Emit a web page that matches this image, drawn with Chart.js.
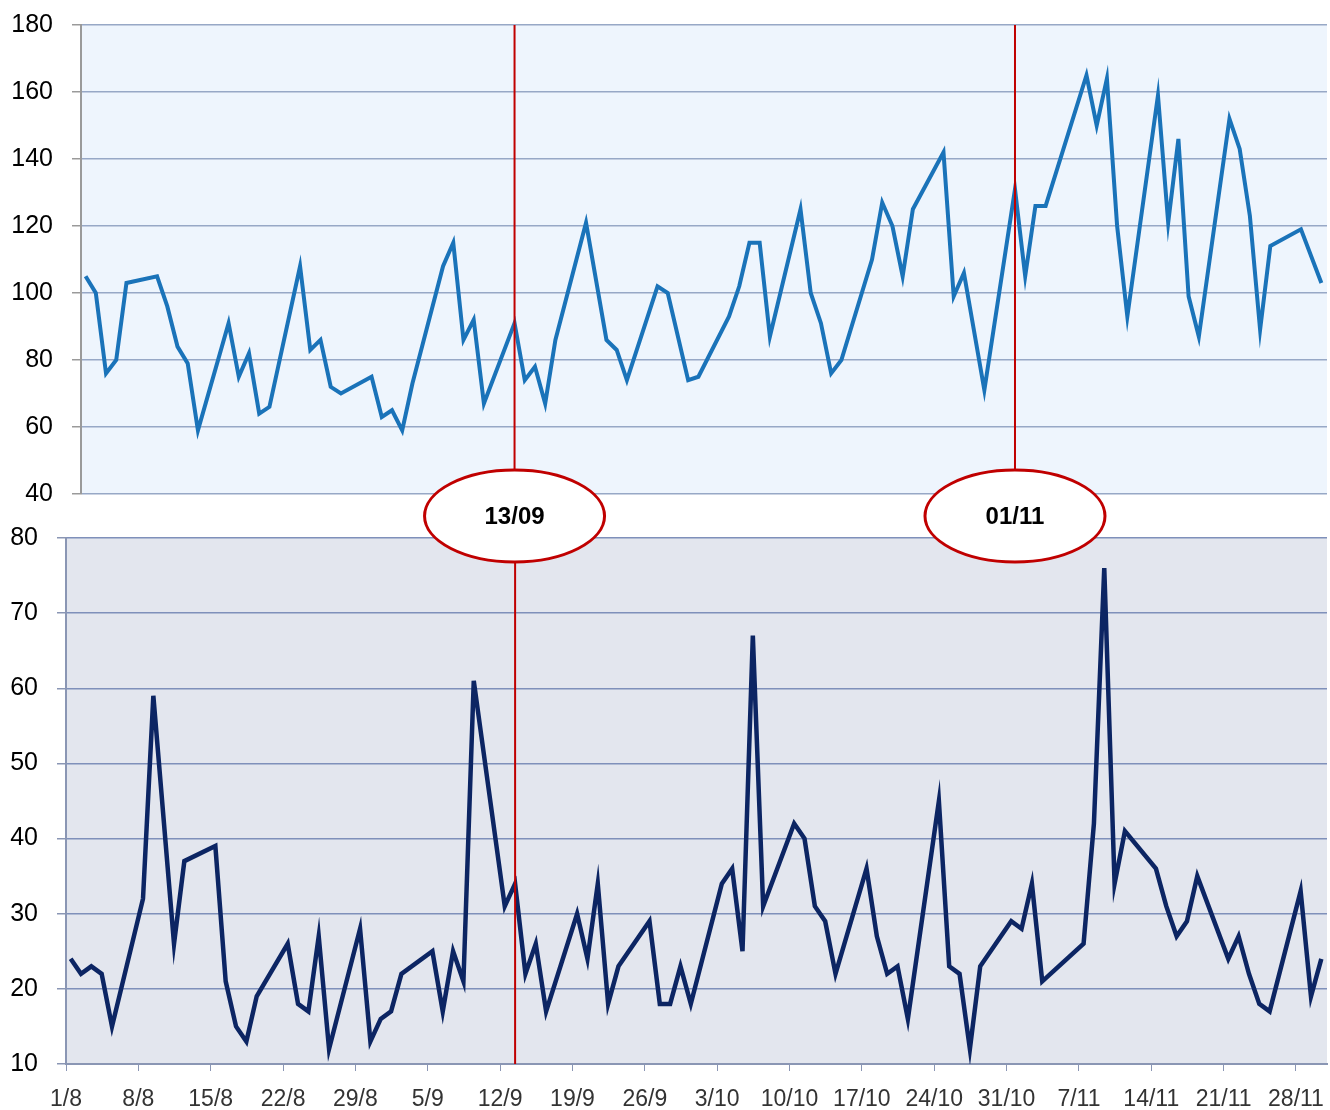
<!DOCTYPE html>
<html>
<head>
<meta charset="utf-8">
<script src="https://cdn.jsdelivr.net/npm/chart.js@4.4.1/dist/chart.umd.min.js"></script>
<style>
    body { margin: 0; background: #fff; }
    #wrap { position: relative; width: 1330px; height: 1110px; }
    canvas { position: absolute; left: 0; top: 0; }
    #bottomChart { z-index: 1; }
    #topChart { z-index: 2; }
</style>
</head>
<body>
<div id="wrap">
    <canvas id="bottomChart" width="1330" height="1110"></canvas>
    <canvas id="topChart" width="1330" height="1110"></canvas>
</div>
<script>
// Top series (day number counted from 1/8)
const topDays = [1, 2, 3, 4, 5, 8, 9, 10, 11, 12, 15, 16, 17, 18, 19, 22, 23, 24, 25, 26,
    29, 30, 31, 32, 33, 36, 37, 38, 39, 40, 43, 44, 45, 46, 47, 50, 52, 53, 54,
    57, 58, 60, 61, 64, 65, 66, 67, 68, 71, 72, 73, 74, 75, 78, 79, 80, 81, 82,
    85, 86, 87, 89, 92, 93, 94, 95, 99, 100, 101, 102, 103, 106, 107, 108, 109, 110,
    113, 114, 115, 116, 117, 120, 122];
const topValues = [105, 100, 76, 80, 103, 105, 96, 84, 79, 59, 91, 75, 82, 64, 66, 108, 83, 86, 72, 70,
    75, 63, 65, 59, 73, 108, 115, 86, 92, 67, 91, 74, 78, 67, 86, 121, 86, 83, 74,
    102, 100, 74, 75, 93, 102, 115, 115, 87, 125, 100, 91, 76, 80, 110, 127, 120, 105, 125,
    142, 99, 106, 71, 131, 105, 126, 126, 165, 150, 164, 120, 93, 159, 121, 146, 99, 87,
    152, 143, 123, 89, 114, 119, 103];

// Bottom series
const bottomDays = [0, 1, 2, 3, 4, 7, 8, 10, 11, 14, 15, 16, 17, 18, 21, 22, 23, 24, 25,
    28, 29, 30, 31, 32, 35, 36, 37, 38, 39, 42, 43, 44, 45, 46, 49, 50, 51, 52, 53,
    56, 57, 58, 59, 60, 63, 64, 65, 66, 67, 70, 71, 72, 73, 74, 77, 78, 79, 80, 81,
    84, 85, 86, 87, 88, 91, 92, 93, 94, 98, 99, 100, 101, 102, 105, 106, 107, 108, 109,
    112, 113, 114, 115, 116, 119, 120, 121];
const bottomValues = [24, 22, 23, 22, 15, 32, 59, 26, 37, 39, 21, 15, 13, 19, 26, 18, 17, 27, 12,
    28, 13, 16, 17, 22, 25, 17, 25, 21, 61, 31, 34, 22, 26, 17, 30, 24, 34, 18, 23,
    29, 18, 18, 23, 18, 34, 36, 25, 67, 31, 42, 40, 31, 29, 22, 36, 27, 22, 23, 16,
    45, 23, 22, 12, 23, 29, 28, 34, 21, 26, 42, 76, 34, 41, 36, 31, 27, 29, 35,
    24, 27, 22, 18, 17, 33, 19, 24];

const tickDays = [0, 7, 14, 21, 28, 35, 42, 49, 56, 63, 70, 77, 84, 91, 98, 105, 112, 119];
const tickLabels = ['1/8', '8/8', '15/8', '22/8', '29/8', '5/9', '12/9', '19/9', '26/9', '3/10',
    '10/10', '17/10', '24/10', '31/10', '7/11', '14/11', '21/11', '28/11'];

const markerDays = [43, 92];
const markerLabels = ['13/09', '01/11'];
const markerIntoBottom = [true, false];

document.addEventListener('DOMContentLoaded', function() {

    // points sit a little after the day tick, like the original date axis
    const POINT_SHIFT = 0.45;
    const FONT = "'Liberation Sans', Arial, Helvetica, sans-serif";
    const RED = '#c00000';

    const plotBackground = {
        id: 'plotBackground',
        beforeDraw(chart, args, opts) {
            const { ctx, chartArea: a } = chart;
            ctx.save();
            ctx.fillStyle = opts.color;
            ctx.fillRect(a.left, a.top, a.right - a.left, a.bottom - a.top);
            ctx.restore();
        }
    };

    function toPoints(days, values) {
        return days.map((d, i) => ({ x: d + POINT_SHIFT, y: values[i] }));
    }

    // keep the plot edges where the layout padding puts them
    function noEdgePadding(scale) {
        scale.paddingTop = 0;
        scale.paddingBottom = 0;
        scale.paddingLeft = 0;
        scale.paddingRight = 0;
    }

    createTopChart();
    createBottomChart();

    function createTopChart() {
        const ctx = document.getElementById('topChart').getContext('2d');

        // red date markers with their ellipse labels
        const markers = {
            id: 'markers',
            afterDraw(chart) {
                const { ctx, chartArea: a } = chart;
                const cy = a.bottom + 22;
                markerDays.forEach((day, i) => {
                    const x = chart.scales.x.getPixelForValue(day + POINT_SHIFT);
                    ctx.save();
                    ctx.strokeStyle = RED;
                    ctx.lineWidth = 2;
                    ctx.beginPath();
                    ctx.moveTo(x, a.top);
                    ctx.lineTo(x, cy);
                    ctx.stroke();

                    ctx.beginPath();
                    ctx.ellipse(x, cy, 90, 46, 0, 0, Math.PI * 2);
                    ctx.fillStyle = '#fff';
                    ctx.fill();
                    ctx.lineWidth = 3;
                    ctx.stroke();

                    ctx.fillStyle = '#000';
                    ctx.font = 'bold 24px ' + FONT;
                    ctx.textAlign = 'center';
                    ctx.textBaseline = 'middle';
                    ctx.fillText(markerLabels[i], x, cy + 1);
                    ctx.restore();
                });
            }
        };

        new Chart(ctx, {
            type: 'line',
            data: {
                datasets: [{
                    data: toPoints(topDays, topValues),
                    borderColor: '#1a73b9',
                    borderWidth: 4,
                    pointRadius: 0,
                    tension: 0,
                    fill: false
                }]
            },
            options: {
                responsive: false,
                animation: false,
                layout: { padding: { left: 0, right: 3, top: 25, bottom: 616 } },
                plugins: {
                    legend: { display: false },
                    tooltip: { enabled: false },
                    plotBackground: { color: '#eef5fd' }
                },
                scales: {
                    x: { type: 'linear', min: 1, max: 123, display: false },
                    y: {
                        min: 40,
                        max: 180,
                        afterFit: scale => { scale.width = 81; noEdgePadding(scale); },
                        ticks: {
                            stepSize: 20,
                            padding: 19,
                            color: '#000',
                            font: { family: FONT, size: 25 }
                        },
                        grid: { color: '#97a8c6', lineWidth: 1.5, tickLength: 9, tickColor: '#9a9a9a' },
                        border: { display: true, color: '#9a9a9a', width: 2 }
                    }
                }
            },
            plugins: [plotBackground, markers]
        });
    }

    function createBottomChart() {
        const ctx = document.getElementById('bottomChart').getContext('2d');

        const markerLines = {
            id: 'markerLines',
            afterDatasetsDraw(chart) {
                const { ctx, chartArea: a } = chart;
                markerDays.forEach((day, i) => {
                    if (!markerIntoBottom[i]) return;
                    const x = chart.scales.x.getPixelForValue(day + POINT_SHIFT);
                    ctx.save();
                    ctx.strokeStyle = RED;
                    ctx.lineWidth = 2;
                    ctx.beginPath();
                    ctx.moveTo(x, a.top);
                    ctx.lineTo(x, a.bottom);
                    ctx.stroke();
                    ctx.restore();
                });
            }
        };

        new Chart(ctx, {
            type: 'line',
            data: {
                datasets: [{
                    data: toPoints(bottomDays, bottomValues),
                    borderColor: '#0c2563',
                    borderWidth: 4.5,
                    pointRadius: 0,
                    tension: 0,
                    fill: false
                }]
            },
            options: {
                responsive: false,
                animation: false,
                layout: { padding: { left: 0, right: 3, top: 538, bottom: 0 } },
                plugins: {
                    legend: { display: false },
                    tooltip: { enabled: false },
                    plotBackground: { color: '#e3e6ee' }
                },
                scales: {
                    x: {
                        type: 'linear',
                        min: 0,
                        max: 122,
                        afterFit: scale => { scale.height = 46; noEdgePadding(scale); },
                        afterBuildTicks: scale => { scale.ticks = tickDays.map(v => ({ value: v })); },
                        ticks: {
                            autoSkip: false,
                            maxRotation: 0,
                            padding: 15,
                            color: '#333',
                            font: { family: FONT, size: 23 },
                            callback: value => tickLabels[tickDays.indexOf(value)]
                        },
                        grid: { drawOnChartArea: false, tickLength: 7, color: '#8a96b4' },
                        border: { display: true, color: '#8a96b4', width: 2 }
                    },
                    y: {
                        min: 10,
                        max: 80,
                        afterFit: scale => { scale.width = 66; noEdgePadding(scale); },
                        ticks: {
                            stepSize: 10,
                            padding: 19,
                            color: '#000',
                            font: { family: FONT, size: 25 }
                        },
                        grid: { color: '#7f90ba', lineWidth: 1.5, tickLength: 9, tickColor: '#8a96b4' },
                        border: { display: true, color: '#8a96b4', width: 2 }
                    }
                }
            },
            plugins: [plotBackground, markerLines]
        });
    }
});
</script>
</body>
</html>
